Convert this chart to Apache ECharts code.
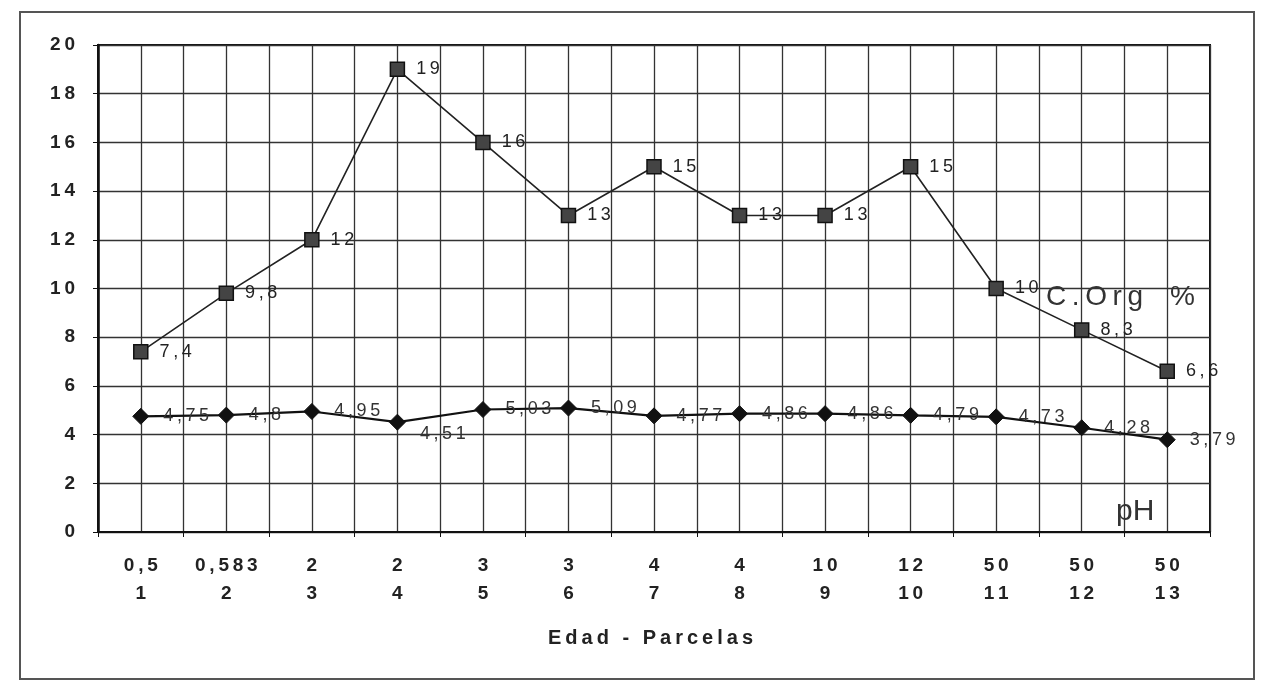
<!DOCTYPE html>
<html><head><meta charset="utf-8">
<script src="https://cdn.jsdelivr.net/npm/echarts@6/dist/echarts.min.js"></script>
<style>html,body{margin:0;padding:0;background:#fff}#c{width:1266px;height:683px}</style>
</head><body><div id="c"></div>
<script>
const edad = ['0,5','0,583','2','2','3','3','4','4','10','12','50','50','50'];
const parcelas = ['1','2','3','4','5','6','7','8','9','10','11','12','13'];
const cOrg = [7.4, 9.8, 12, 19, 16, 13, 15, 13, 13, 15, 10, 8.3, 6.6];
const pH = [4.75, 4.8, 4.95, 4.51, 5.03, 5.09, 4.77, 4.86, 4.86, 4.79, 4.73, 4.28, 3.79];
const yTicks = [0, 2, 4, 6, 8, 10, 12, 14, 16, 18, 20];

const sp = s => String(s).split('').join('\u2009');
const cats = edad.map((e, i) => sp(e) + '\n' + sp(parcelas[i]));
const half = [];
for (let i = 0; i < cats.length * 2; i++) half.push(String(i));
const fmt = p => sp(String(p.value).replace('.', ','));
const font = '"Liberation Sans", Arial, sans-serif';

const cOrgData = cOrg.slice();
const pHData = pH.map((v, i) => i === 3 ? {value: v, label: {offset: [0, 12]}} : v);

const chart = echarts.init(document.getElementById('c'));
chart.setOption({
  animation: false,
  backgroundColor: '#fff',
  grid: {left: 98, right: 56, top: 45, bottom: 151, show: true, borderColor: '#111', borderWidth: 2, backgroundColor: 'transparent'},
  xAxis: [{
    type: 'category', data: cats, boundaryGap: true,
    axisLine: {lineStyle: {color: '#111', width: 2}},
    axisTick: {show: true, length: 5, lineStyle: {color: '#111'}},
    splitLine: {show: false},
    axisLabel: {color: '#222', fontFamily: font, fontSize: 19, fontWeight: 'bold', lineHeight: 28, margin: 20, interval: 0},
  }, {
    type: 'category', data: half, boundaryGap: true, position: 'bottom',
    axisLine: {show: false}, axisTick: {show: false}, axisLabel: {show: false},
    splitLine: {show: true, lineStyle: {color: '#333', width: 1.3}}
  }],
  yAxis: {
    type: 'value', min: 0, max: 20, interval: 2,
    axisLine: {show: true, lineStyle: {color: '#111', width: 2.5}},
    axisTick: {show: true, length: 5, lineStyle: {color: '#111'}},
    axisLabel: {color: '#222', fontFamily: font, fontSize: 19, fontWeight: 'bold', margin: 23,
      formatter: v => yTicks.includes(v) ? sp(v) : ''},
    splitLine: {show: true, lineStyle: {color: '#333', width: 1.3}}
  },
  series: [{
    name: 'C.Org %', type: 'line', data: cOrgData, xAxisIndex: 0,
    symbol: 'rect', symbolSize: 14,
    itemStyle: {color: '#444', borderColor: '#111', borderWidth: 1.5},
    lineStyle: {color: '#222', width: 1.6},
    label: {show: true, position: 'right', distance: 11, formatter: fmt, color: '#222', fontFamily: font, fontSize: 18}
  }, {
    name: 'pH', type: 'line', data: pHData, xAxisIndex: 0,
    symbol: 'diamond', symbolSize: 16,
    itemStyle: {color: '#111', borderColor: '#111'},
    lineStyle: {color: '#111', width: 2.2},
    label: {show: true, position: 'right', distance: 14, formatter: fmt, color: '#333', fontFamily: font, fontSize: 18}
  }],
  graphic: [
    {type: 'rect', shape: {x: 20, y: 12, width: 1234, height: 667}, style: {fill: 'none', stroke: '#555', lineWidth: 2}, z: -10},
    {type: 'text', left: 1046, top: 283, style: {text: sp('C.Org'), fill: '#333', font: '28px ' + font}, z: 100},
    {type: 'text', left: 1170, top: 283, style: {text: '%', fill: '#333', font: '28px ' + font}, z: 100},
    {type: 'text', left: 1116, top: 497, style: {text: 'pH', fill: '#333', font: '30px ' + font}, z: 100},
    {type: 'text', left: 548, top: 628, style: {text: sp('Edad - Parcelas'), fill: '#222', font: 'bold 20px ' + font}, z: 100}
  ]
});
</script></body></html>
